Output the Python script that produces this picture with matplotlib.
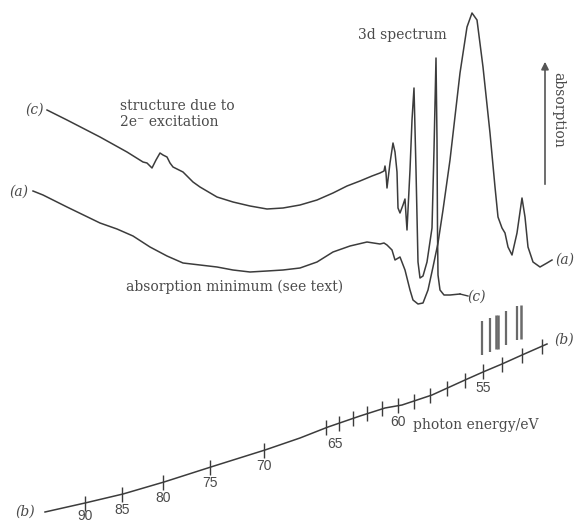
'''
absorption trace of the 3d region, two runs (a) and (c) plus the energy
calibration line (b) drawn under it, like the plate densitometer figure
'''
import numpy as np
import matplotlib
matplotlib.use('Agg')
import matplotlib.pyplot as plt


########
# data #
########
# position along the plate (mm) and absorption (arb. units)
c_pos = [4.7, 6.7, 10.0, 12.7, 14.3, 14.7, 15.2, 15.6, 16.0, 16.3, 16.7, 17.0, 17.3, 17.7,
         18.3, 19.3, 20.0, 21.7, 23.3, 25.0, 26.7, 28.3, 30.0, 31.7, 33.3, 34.7, 36.0, 37.2,
         38.0, 38.4, 38.5, 38.6, 38.7, 39.0, 39.3, 39.5, 39.7, 39.8, 40.0, 40.3, 40.5, 40.6,
         40.7, 41.0, 41.2, 41.4, 41.6, 41.8, 42.0, 42.3, 42.7, 43.2, 43.4, 43.6, 43.7, 43.75,
         43.8, 44.0, 44.4, 45.0, 46.0]
c_abs = [4.13, 4.03, 3.86, 3.71, 3.61, 3.60, 3.55, 3.63, 3.70, 3.68, 3.66, 3.60, 3.56, 3.54,
         3.51, 3.41, 3.36, 3.26, 3.21, 3.17, 3.14, 3.15, 3.18, 3.23, 3.30, 3.37, 3.42, 3.47,
         3.50, 3.52, 3.57, 3.50, 3.35, 3.60, 3.80, 3.71, 3.51, 3.15, 3.10, 3.18, 3.24, 3.08,
         2.93, 3.53, 4.03, 4.35, 3.53, 2.61, 2.45, 2.47, 2.61, 2.95, 3.73, 4.65, 3.83, 2.93,
         2.48, 2.33, 2.28, 2.28, 2.29]

a_pos = [3.3, 4.3, 6.7, 10.0, 11.7, 13.3, 15.0, 16.7, 18.3, 20.0, 21.7, 23.3, 25.0, 26.7,
         28.3, 30.0, 31.7, 33.3, 35.0, 36.7, 38.0, 38.4, 38.7, 39.2, 39.5, 40.0, 40.5, 41.0,
         41.3, 41.8, 42.3, 42.8, 43.3, 43.8, 44.3, 45.0, 46.0, 46.7, 47.2, 47.7, 48.3, 49.0,
         49.5, 49.8, 50.2, 50.5, 50.8, 51.2, 51.7, 52.2, 52.5, 52.8, 53.3, 54.0, 54.7, 55.2]
a_abs = [3.32, 3.28, 3.16, 3.00, 2.94, 2.87, 2.76, 2.67, 2.60, 2.58, 2.56, 2.53, 2.51, 2.52,
         2.53, 2.55, 2.61, 2.71, 2.77, 2.81, 2.79, 2.80, 2.78, 2.73, 2.63, 2.66, 2.53, 2.33,
         2.23, 2.19, 2.20, 2.33, 2.56, 2.80, 3.13, 3.63, 4.50, 4.96, 5.10, 5.03, 4.56, 3.90,
         3.36, 3.06, 2.95, 2.90, 2.76, 2.68, 2.90, 3.25, 3.06, 2.76, 2.61, 2.56, 2.60, 2.63]

# calibration trace (b)
b_pos = [4.5, 8.5, 12.3, 16.4, 21.4, 26.5, 30.0, 32.8, 36.0, 38.5, 40.2, 43.2, 46.5, 48.3,
         50.2, 52.2, 54.7]
b_val = [0.11, 0.20, 0.29, 0.41, 0.57, 0.73, 0.85, 0.96, 1.07, 1.15, 1.18, 1.28, 1.43, 1.51,
         1.59, 1.68, 1.79]

# energy scale of the plate (eV)
tick_E = [90, 85, 80, 75, 70, 65, 64, 63, 62, 61, 60, 59, 58, 57, 56, 55, 54, 53, 52]
label_E = [90, 85, 80, 75, 70, 65, 60, 55]
# 3d line positions (eV)
line_E = [55.05, 54.65, 54.3, 54.2, 53.8, 53.25, 53.05]


def plate_pos(E):
    # plate is linear in wavelength
    return 5630.0 / np.asarray(E, dtype=float) - 54.06


#########
# style #
#########
line_col = '#3c3c3c'
text_col = '#4a4a4a'
serif = ['DejaVu Serif']
sans = ['Liberation Sans', 'DejaVu Sans']


########
# plot #
########
fig = plt.figure(figsize=(5.77, 5.23), dpi=100)
ax = fig.add_axes([0, 0, 1, 1])
ax.set_xlim(0, 57.7)
ax.set_ylim(0, 5.23)
ax.axis('off')

ax.plot(c_pos, c_abs, color=line_col, lw=1.1)
ax.plot(a_pos, a_abs, color=line_col, lw=1.1)
ax.plot(b_pos, b_val, color=line_col, lw=1.1)

# ticks on (b)
tx = plate_pos(tick_E)
ty = np.interp(tx, b_pos, b_val)
ax.vlines(tx, ty - 0.075, ty + 0.075, color=line_col, lw=1.0)
for E in label_E:
    x = plate_pos(E)
    y = np.interp(x, b_pos, b_val)
    dx = 7 if E == 65 else 0
    dy = -9.0 if E == 90 else -11.5   # 90 sits at the bottom edge
    ax.annotate(str(E), (x, y), xytext=(dx, dy), textcoords='offset points',
                ha='center', va='center', fontsize=10, family=sans, color=text_col)

# 3d lines above the scale
lx = plate_pos(line_E)
ly = np.interp(lx, b_pos, b_val)
widths = [1.6, 1.6, 1.8, 1.8, 1.6, 1.6, 1.8]
for x, y, w in zip(lx, ly, widths):
    ax.vlines(x, y + 0.17, y + 0.51, color='#6a6a6a', lw=w)

# curve labels
lab = dict(fontsize=10, family=serif, style='italic', color=text_col, ha='center', va='center')
ax.text(3.5, 4.13, '(c)', **lab)
ax.text(1.9, 3.31, '(a)', **lab)
ax.text(2.5, 0.11, '(b)', **lab)
ax.text(56.4, 1.83, '(b)', **lab)
ax.text(56.5, 2.63, '(a)', **lab)
ax.text(47.7, 2.26, '(c)', **lab)
# short leader to the right hand label
ax.plot([46.0, 46.8], [2.29, 2.27], color=line_col, lw=1.0)

txt = dict(fontsize=10, family=serif, color=text_col)
ax.text(40.2, 4.88, '3d spectrum', ha='center', va='center', **txt)
ax.text(12.0, 4.09, 'structure due to\n2e\u207b excitation', ha='left', va='center',
        linespacing=1.25, **txt)
ax.text(23.5, 2.36, 'absorption minimum (see text)', ha='center', va='center', **txt)
ax.text(41.3, 0.98, 'photon energy/eV', ha='left', va='center', **txt)
ax.text(55.8, 4.13, 'absorption', rotation=270, ha='center', va='center', **txt)

ax.annotate('', xy=(54.5, 4.64), xytext=(54.5, 3.36),
            arrowprops=dict(arrowstyle='-|>', color='#555555', lw=1.2, mutation_scale=11))

plt.savefig('out.png', dpi=100)
